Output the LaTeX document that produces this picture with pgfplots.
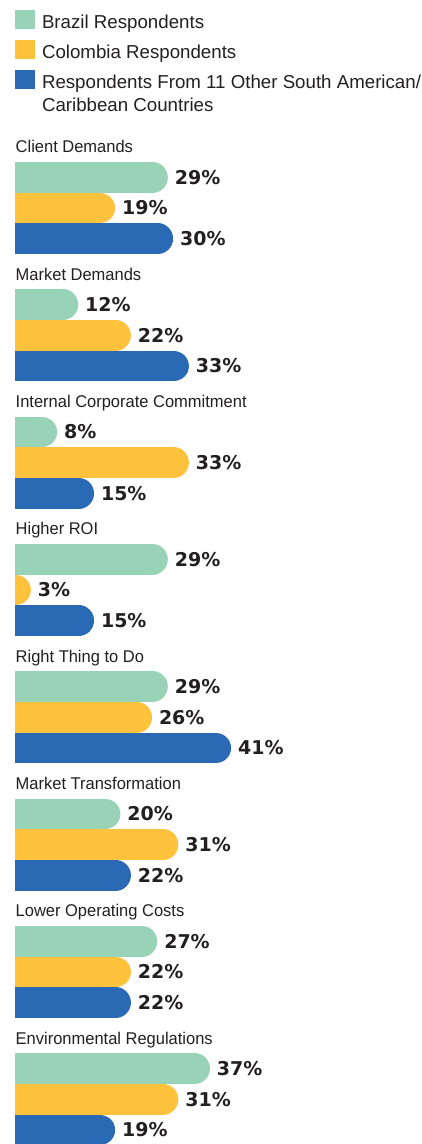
\documentclass[border=0pt]{standalone}
\usepackage{pgfplots}
\pgfplotsset{compat=1.18}
\usepackage{pgfplotstable}
\usepackage{fontspec}
\setmainfont{Liberation Sans}
\newfontfamily\condfont[FakeStretch=0.97]{Liberation Sans}
\newfontfamily\valfont{DejaVu Sans}
\definecolor{cgreen}{HTML}{98D3B7}
\definecolor{cyellow}{HTML}{FFC23D}
\definecolor{cblue}{HTML}{2A69B3}
\definecolor{ctext}{HTML}{231F20}
\pgfplotstableread{
g brazil colombia other
0 29 19 30
1 12 22 33
2 8 33 15
3 29 3 15
4 29 26 41
5 20 31 22
6 27 22 22
7 37 31 19
}\data
\begin{document}
\begin{tikzpicture}
\begin{axis}[
  scale only axis, width=418bp, height=1144bp,
  xmin=0, xmax=79.32, ymin=0, ymax=1144, y dir=reverse,
  hide axis,
  /pgf/number format/assume math mode=true,
  point meta=explicit,
  nodes near coords={\pgfmathprintnumber{\pgfplotspointmeta}\%},
  nodes near coords style={anchor=base west, inner sep=0pt, xshift=7bp, yshift=-6.8bp,
    font=\valfont\bfseries\fontsize{19bp}{19bp}\selectfont, text=ctext},
  legend style={at={(axis description cs:0,1)}, anchor=north west, yshift=-9.3bp,
    draw=none, fill=none, inner sep=0pt, outer sep=0pt,
    /tikz/row sep=7.3bp, /tikz/column sep=7bp,
    nodes={inner sep=0pt, text height=19bp, text depth=4bp},
    cells={anchor=base west},
    font=\fontsize{18.7bp}{22.5bp}\selectfont, text=ctext},
  legend image code/.code={\fill[#1, draw=none, line width=0pt] (0bp,-0.5bp) rectangle (20bp,18.5bp);},
]
\addplot[xcomb, color=cgreen, line width=30.7bp, line cap=round]
  table[x expr=\thisrow{brazil}-2.913, y expr=177.4+127.3*\thisrow{g}, meta=brazil] {\data};
\addlegendentry{Brazil Respondents}
\addplot[xcomb, color=cyellow, line width=30.7bp, line cap=round]
  table[x expr=\thisrow{colombia}-2.913, y expr=208.1+127.3*\thisrow{g}, meta=colombia] {\data};
\addlegendentry{Colombia Respondents}
\addplot[xcomb, color=cblue, line width=30.7bp, line cap=round]
  table[x expr=\thisrow{other}-2.913, y expr=238.8+127.3*\thisrow{g}, meta=other] {\data};
\addlegendentry{\begin{tabular}[t]{@{}l@{}}Respondents From 11 Other South American/\\Caribbean Countries\end{tabular}}
\tikzset{catlabel/.style={anchor=base west, inner sep=0pt, xshift=0.5bp, text=ctext,
  font=\condfont\fontsize{17bp}{17bp}\selectfont}}
\node[catlabel] at (axis cs:0,153.0) {Client Demands};
\node[catlabel] at (axis cs:0,280.3) {Market Demands};
\node[catlabel] at (axis cs:0,407.6) {Internal Corporate Commitment};
\node[catlabel] at (axis cs:0,534.9) {Higher ROI};
\node[catlabel] at (axis cs:0,662.2) {Right Thing to Do};
\node[catlabel] at (axis cs:0,789.5) {Market Transformation};
\node[catlabel] at (axis cs:0,916.8) {Lower Operating Costs};
\node[catlabel] at (axis cs:0,1044.1) {Environmental Regulations};
\end{axis}
\path (current axis.north west) ++(-15bp,0);
\end{tikzpicture}
\end{document}
